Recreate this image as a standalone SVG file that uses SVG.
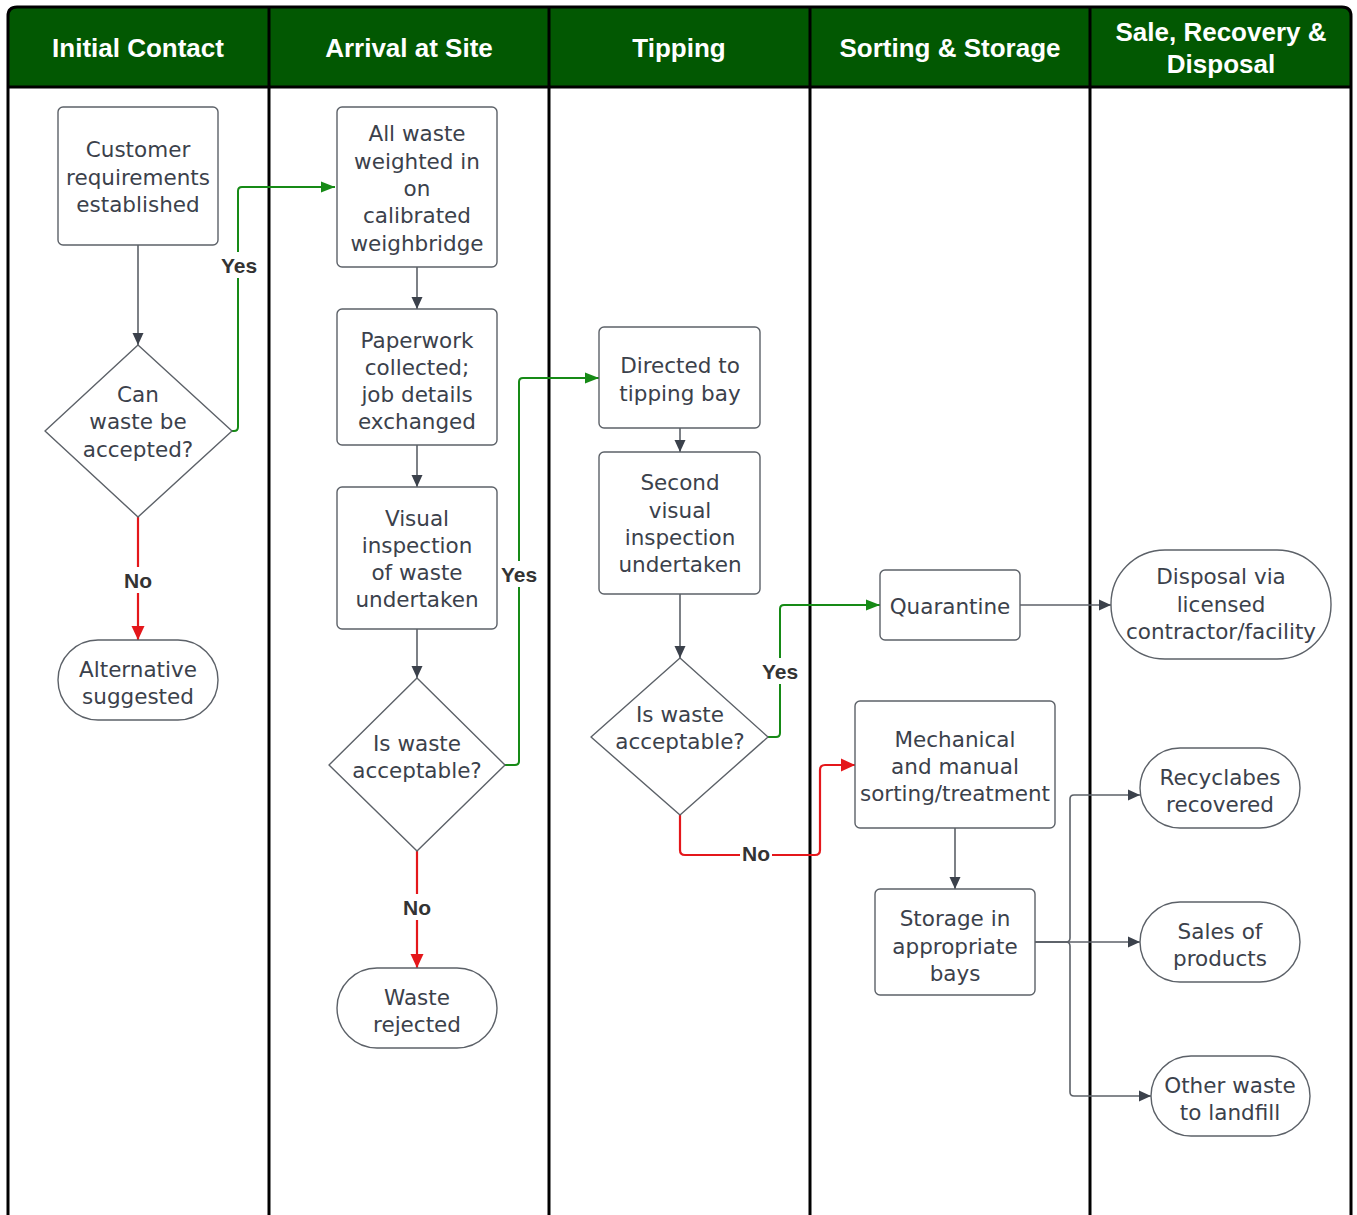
<svg xmlns="http://www.w3.org/2000/svg" width="1357" height="1215" viewBox="0 0 1357 1215">
<defs>
<style>
.hdr{font-family:"Liberation Sans",Arial,sans-serif;font-weight:bold;font-size:26px;fill:#ffffff;text-anchor:middle}
.node rect,.node path,.node polygon{fill:#ffffff;stroke:#5c6168;stroke-width:1.4;stroke-linejoin:round}
.node text{font-family:"DejaVu Sans",sans-serif;font-size:21.5px;fill:#3b414b;text-anchor:middle;dominant-baseline:central}
.lane{stroke:#000;stroke-width:3;fill:none}
.c{fill:none;stroke-width:1.6}
.g{stroke:#5c6168}
.gr{stroke:#168a16;stroke-width:2}
.rd{stroke:#e4171b;stroke-width:2.2}
.lbl{font-family:"Liberation Sans",Arial,sans-serif;font-weight:bold;font-size:21px;fill:#333;text-anchor:middle;dominant-baseline:central}
.bg{fill:#fff}
</style>
<marker id="ag" viewBox="0 0 12 12" refX="12" refY="6" markerWidth="12" markerHeight="12" markerUnits="userSpaceOnUse" orient="auto"><path d="M0,0.5 L12,6 L0,11.5 Z" fill="#3b414b"/></marker>
<marker id="agr" viewBox="0 0 14 12" refX="14" refY="6" markerWidth="14" markerHeight="12" markerUnits="userSpaceOnUse" orient="auto"><path d="M0,0.5 L14,6 L0,11.5 Z" fill="#168a16"/></marker>
<marker id="ard" viewBox="0 0 12 14" refX="14" refY="7" markerWidth="12" markerHeight="14" markerUnits="userSpaceOnUse" orient="auto"><path d="M0,0.5 L14,7 L0,13.5 Z" fill="#e4171b"/></marker>
</defs>
<rect width="1357" height="1215" fill="#ffffff"/>
<g id="lanes">
<path d="M8 1215 V16 Q8 7 17 7 H1342 Q1351 7 1351 16 V87 H8 Z" fill="#025802"/>
<path class="lane" d="M8 1215 V16 Q8 7 17 7 H1342 Q1351 7 1351 16 V1215"/>
<line class="lane" x1="8" y1="87" x2="1351" y2="87"/>
<line class="lane" x1="269" y1="7" x2="269" y2="1215"/>
<line class="lane" x1="549" y1="7" x2="549" y2="1215"/>
<line class="lane" x1="810" y1="7" x2="810" y2="1215"/>
<line class="lane" x1="1090" y1="7" x2="1090" y2="1215"/>
<text class="hdr" x="138" y="57">Initial Contact</text>
<text class="hdr" x="409" y="57">Arrival at Site</text>
<text class="hdr" x="679" y="57">Tipping</text>
<text class="hdr" x="950" y="57">Sorting &amp; Storage</text>
<text class="hdr" x="1221" y="41">Sale, Recovery &amp;</text>
<text class="hdr" x="1221" y="73">Disposal</text>
</g>
<g id="connectors">
<path class="c g" d="M138 245 V345" marker-end="url(#ag)"/>
<path class="c gr" d="M232 431 H234 Q238 431 238 427 V191 Q238 187 242 187 H335" marker-end="url(#agr)"/>
<rect class="bg" x="219" y="252" width="40" height="26"/>
<text class="lbl" x="239" y="265">Yes</text>
<path class="c rd" d="M138 517 V640" marker-end="url(#ard)"/>
<rect class="bg" x="120" y="567" width="36" height="26"/>
<text class="lbl" x="138" y="580">No</text>
<path class="c g" d="M417 267 V309" marker-end="url(#ag)"/>
<path class="c g" d="M417 445 V487" marker-end="url(#ag)"/>
<path class="c g" d="M417 629 V678" marker-end="url(#ag)"/>
<path class="c gr" d="M505 765 H515 Q519 765 519 761 V382 Q519 378 523 378 H599" marker-end="url(#agr)"/>
<rect class="bg" x="499" y="561" width="40" height="26"/>
<text class="lbl" x="519" y="574">Yes</text>
<path class="c rd" d="M417 851 V968" marker-end="url(#ard)"/>
<rect class="bg" x="399" y="894" width="36" height="26"/>
<text class="lbl" x="417" y="907">No</text>
<path class="c g" d="M680 428 V452" marker-end="url(#ag)"/>
<path class="c g" d="M680 594 V658" marker-end="url(#ag)"/>
<path class="c gr" d="M768 737 H776 Q780 737 780 733 V609 Q780 605 784 605 H880" marker-end="url(#agr)"/>
<rect class="bg" x="760" y="658" width="40" height="26"/>
<text class="lbl" x="780" y="671">Yes</text>
<path class="c rd" d="M680 815 V850 Q680 855 685 855 H815 Q820 855 820 850 V770 Q820 765 825 765 H855" marker-end="url(#ard)"/>
<rect class="bg" x="740" y="841" width="32" height="24"/>
<text class="lbl" x="756" y="853">No</text>
<path class="c g" d="M1020 605 H1111" marker-end="url(#ag)"/>
<path class="c g" d="M955 828 V889" marker-end="url(#ag)"/>
<path class="c g" d="M1035 942 H1066 Q1070 942 1070 938 V799 Q1070 795 1074 795 H1140" marker-end="url(#ag)"/>
<path class="c g" d="M1035 942 H1140" marker-end="url(#ag)"/>
<path class="c g" d="M1035 942 H1066 Q1070 942 1070 946 V1092 Q1070 1096 1074 1096 H1151" marker-end="url(#ag)"/>
</g>
<g id="n-customer" class="node"><rect x="58" y="107" width="160" height="138" rx="5"/><text x="138" y="149">Customer</text><text x="138" y="177">requirements</text><text x="138" y="204">established</text></g>
<g id="n-canaccept" class="node"><polygon points="138,345 232,431 138,517 45,431"/><text x="138" y="394">Can</text><text x="138" y="421">waste be</text><text x="138" y="449">accepted?</text></g>
<g id="n-alternative" class="node"><rect x="58" y="640" width="160" height="80" rx="40"/><text x="138" y="669">Alternative</text><text x="138" y="696">suggested</text></g>
<g id="n-weighbridge" class="node"><rect x="337" y="107" width="160" height="160" rx="5"/><text x="417" y="133">All waste</text><text x="417" y="161">weighted in</text><text x="417" y="188">on</text><text x="417" y="215">calibrated</text><text x="417" y="243">weighbridge</text></g>
<g id="n-paperwork" class="node"><rect x="337" y="309" width="160" height="136" rx="5"/><text x="417" y="340">Paperwork</text><text x="417" y="367">collected;</text><text x="417" y="394">job details</text><text x="417" y="421">exchanged</text></g>
<g id="n-visual" class="node"><rect x="337" y="487" width="160" height="142" rx="5"/><text x="417" y="518">Visual</text><text x="417" y="545">inspection</text><text x="417" y="572">of waste</text><text x="417" y="599">undertaken</text></g>
<g id="n-acceptable1" class="node"><polygon points="417,678 505,765 417,851 329,765"/><text x="417" y="743">Is waste</text><text x="417" y="770">acceptable?</text></g>
<g id="n-rejected" class="node"><rect x="337" y="968" width="160" height="80" rx="40"/><text x="417" y="997">Waste</text><text x="417" y="1024">rejected</text></g>
<g id="n-tippingbay" class="node"><rect x="599" y="327" width="161" height="101" rx="5"/><text x="680" y="365">Directed to</text><text x="680" y="393">tipping bay</text></g>
<g id="n-second" class="node"><rect x="599" y="452" width="161" height="142" rx="5"/><text x="680" y="482">Second</text><text x="680" y="510">visual</text><text x="680" y="537">inspection</text><text x="680" y="564">undertaken</text></g>
<g id="n-acceptable2" class="node"><polygon points="680,658 768,737 680,815 591,737"/><text x="680" y="714">Is waste</text><text x="680" y="741">acceptable?</text></g>
<g id="n-quarantine" class="node"><rect x="880" y="570" width="140" height="70" rx="5"/><text x="950" y="606">Quarantine</text></g>
<g id="n-disposal" class="node"><rect x="1111" y="550" width="220" height="109" rx="54"/><text x="1221" y="576">Disposal via</text><text x="1221" y="604">licensed</text><text x="1221" y="631">contractor/facility</text></g>
<g id="n-mechanical" class="node"><rect x="855" y="701" width="200" height="127" rx="5"/><text x="955" y="739">Mechanical</text><text x="955" y="766">and manual</text><text x="955" y="793">sorting/treatment</text></g>
<g id="n-storage" class="node"><rect x="875" y="889" width="160" height="106" rx="5"/><text x="955" y="918">Storage in</text><text x="955" y="946">appropriate</text><text x="955" y="973">bays</text></g>
<g id="n-recyclables" class="node"><rect x="1140" y="748" width="160" height="80" rx="40"/><text x="1220" y="777">Recyclabes</text><text x="1220" y="804">recovered</text></g>
<g id="n-sales" class="node"><rect x="1140" y="902" width="160" height="80" rx="40"/><text x="1220" y="931">Sales of</text><text x="1220" y="958">products</text></g>
<g id="n-landfill" class="node"><rect x="1151" y="1056" width="159" height="80" rx="40"/><text x="1230" y="1085">Other waste</text><text x="1230" y="1112">to landfill</text></g>
</svg>
